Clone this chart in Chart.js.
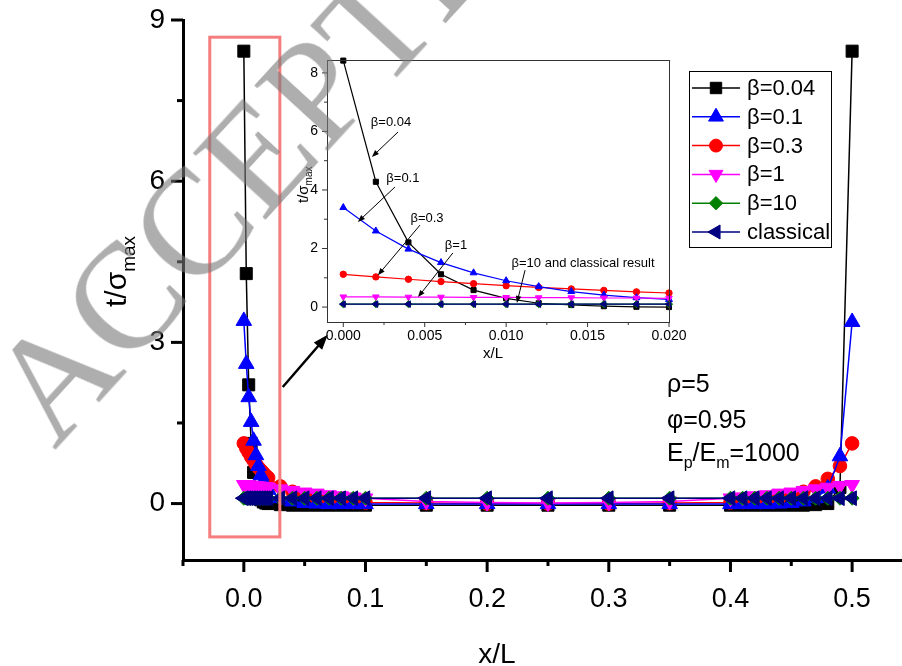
<!DOCTYPE html>
<html>
<head>
<meta charset="utf-8">
<script src="https://cdn.jsdelivr.net/npm/chart.js@4.4.0/dist/chart.umd.min.js"></script>
<style>
body { margin: 0; background: #fff; overflow: hidden; }
#wrap { position: relative; width: 902px; height: 666px; overflow: hidden; }
#main { position: absolute; left: 0; top: 0; }
#inset { position: absolute; left: 280px; top: 50px; }
#wm { position: absolute; left: 46px; top: 443px; width: 0; height: 0; transform: rotate(-47.5deg); transform-origin: 0 0; pointer-events: none; }
#wm span { position: absolute; left: 0; top: -126px; line-height: 1; font: 150px "Liberation Serif", "Times New Roman", serif; white-space: nowrap; color: rgba(120,120,120,0.6); }
</style>
</head>
<body>
<div id="wrap">
  <canvas id="main" width="902" height="666"></canvas>
  <canvas id="inset" width="420" height="320"></canvas>
  <div id="wm"><span>ACCEPTED MANUSCRIPT</span></div>
</div>
<script>
// x/L positions of the computed points (dense near the fibre ends)
var xL = [0, 0.002, 0.004, 0.006, 0.008, 0.010, 0.012, 0.014, 0.016, 0.018, 0.020,
  0.03, 0.04, 0.05, 0.06, 0.07, 0.08, 0.09, 0.10,
  0.15, 0.20, 0.25, 0.30, 0.35,
  0.40, 0.41, 0.42, 0.43, 0.44, 0.45, 0.46, 0.47, 0.48, 0.49, 0.50]

// t/sigma_max
var beta004 = [8.42, 4.28, 2.21, 1.12, 0.58, 0.30, 0.13, 0.07, 0.03, 0.01, 0.00,
  -0.02, -0.03, -0.03, -0.03, -0.03, -0.03, -0.03, -0.03,
  -0.03, -0.03, -0.03, -0.03, -0.03,
  -0.03, -0.03, -0.03, -0.03, -0.03, -0.03, -0.03, -0.02, 0.00, 0.30, 8.42]
var beta01 = [3.40, 2.60, 1.98, 1.52, 1.17, 0.90, 0.70, 0.53, 0.41, 0.32, 0.26,
  0.10, 0.04, 0.01, 0.00, -0.01, -0.01, -0.01, -0.01,
  -0.01, -0.01, -0.01, -0.01, -0.01,
  -0.01, -0.01, -0.01, -0.01, 0.00, 0.01, 0.04, 0.10, 0.28, 0.88, 3.38]
var beta03 = [1.12, 1.03, 0.95, 0.87, 0.80, 0.73, 0.67, 0.62, 0.57, 0.52, 0.48,
  0.32, 0.22, 0.15, 0.10, 0.07, 0.05, 0.03, 0.02,
  0.01, 0.00, 0.00, 0.00, 0.01,
  0.02, 0.03, 0.05, 0.07, 0.10, 0.15, 0.22, 0.32, 0.46, 0.70, 1.12]
var beta1 = [0.35, 0.35, 0.34, 0.34, 0.33, 0.33, 0.32, 0.32, 0.31, 0.31, 0.30,
  0.27, 0.24, 0.21, 0.19, 0.16, 0.14, 0.12, 0.10,
  0.04, 0.02, 0.01, 0.02, 0.04,
  0.10, 0.12, 0.14, 0.16, 0.19, 0.21, 0.24, 0.27, 0.30, 0.33, 0.35]
var beta10 = [0.10, 0.10, 0.10, 0.10, 0.10, 0.10, 0.10, 0.10, 0.10, 0.10, 0.10,
  0.10, 0.10, 0.10, 0.10, 0.10, 0.10, 0.10, 0.10,
  0.10, 0.10, 0.10, 0.10, 0.10,
  0.10, 0.10, 0.10, 0.10, 0.10, 0.10, 0.10, 0.10, 0.10, 0.10, 0.10]
var classical = [0.10, 0.10, 0.10, 0.10, 0.10, 0.10, 0.10, 0.10, 0.10, 0.10, 0.10,
  0.10, 0.10, 0.10, 0.10, 0.10, 0.10, 0.10, 0.10,
  0.10, 0.10, 0.10, 0.10, 0.10,
  0.10, 0.10, 0.10, 0.10, 0.10, 0.10, 0.10, 0.10, 0.10, 0.10, 0.10]

var seriesNames = ['β=0.04', 'β=0.1', 'β=0.3', 'β=1', 'β=10', 'classical']
var seriesValues = [beta004, beta01, beta03, beta1, beta10, classical]

// tick values
var xMajor = [0, 0.1, 0.2, 0.3, 0.4, 0.5]
var xMinor = [-0.05, 0.05, 0.15, 0.25, 0.35, 0.45]
var yMajor = [0, 3, 6, 9]
var yMinor = [1.5, 4.5, 7.5]
var insetXMajor = [0, 0.005, 0.010, 0.015, 0.020]
var insetXMinor = [0.0025, 0.0075, 0.0125, 0.0175]
var insetYMajor = [0, 2, 4, 6, 8]
var insetYMinor = [1, 3, 5, 7]
var insetCount = 11 // points with x/L <= 0.02 go in the inset

// labels with arrows inside the inset, in inset data units
var insetNotes = [
  { text: 'β=0.04', at: [0.00293, 6.32], from: [0.00336, 5.98], to: [0.00176, 5.13] },
  { text: 'β=0.1', at: [0.00366, 4.41], from: [0.00317, 4.10], to: [0.00090, 2.91] },
  { text: 'β=0.3', at: [0.00514, 3.04], from: [0.00471, 2.80], to: [0.00213, 1.09] },
  { text: 'β=1', at: [0.00692, 2.09], from: [0.00673, 1.85], to: [0.00459, 0.34] },
  { text: 'β=10 and classical result', at: [0.01472, 1.50], from: [0.01116, 1.26], to: [0.01066, 0.14] }
]
// zoom box and arrow on the main plot, in main data units
var zoomBox = [-0.028, 0.0296, -0.62, 8.68]
var zoomArrow = [0.032, 2.17, 0.069, 3.14]

// styles
var seriesColors = ['#000000', '#0000ff', '#ff0000', '#ff00ff', '#008000', '#000080']
var pointStyles = ['rect', 'triangle', 'circle', 'triangle', 'rectRot', 'triangle']
var pointRotations = [0, 0, 0, 180, 0, -90]
var mainRadius = [8.5, 9, 6.8, 8.5, 7, 8.5]
var insetRadius = [3.6, 4, 3.2, 3.8, 3.6, 3.8]
var drawOrder = [5, 3, 4, 2, 1, 0]
var family = "'Liberation Sans', Arial, sans-serif"

function buildSets(n, radii, lineWidth) {
  return seriesValues.map(function(vals, i) {
    return {
      label: seriesNames[i],
      data: xL.slice(0, n).map(function(x, j) { return { x: x, y: vals[j] } }),
      borderColor: seriesColors[i],
      backgroundColor: seriesColors[i],
      borderWidth: lineWidth,
      pointStyle: pointStyles[i],
      pointRotation: pointRotations[i],
      pointRadius: radii[i],
      pointBorderWidth: 1,
      pointBackgroundColor: seriesColors[i],
      pointBorderColor: seriesColors[i],
      tension: 0,
      order: drawOrder[i],
      clip: false
    }
  })
}

function drawTicks(ctx, scale, majors, minors, majorLen, minorLen, width, color) {
  ctx.save()
  ctx.strokeStyle = color
  ctx.lineWidth = width
  var horiz = scale.isHorizontal()
  function one(v, len) {
    var p = scale.getPixelForValue(v)
    ctx.beginPath()
    if (horiz) { ctx.moveTo(p, scale.top); ctx.lineTo(p, scale.top + len) }
    else { ctx.moveTo(scale.right, p); ctx.lineTo(scale.right - len, p) }
    ctx.stroke()
  }
  majors.forEach(function(v) { one(v, majorLen) })
  minors.forEach(function(v) { one(v, minorLen) })
  ctx.restore()
}

function arrow(ctx, x1, y1, x2, y2, head, half, width) {
  var a = Math.atan2(y2 - y1, x2 - x1)
  var c = Math.cos(a), s = Math.sin(a)
  ctx.lineWidth = width
  ctx.beginPath()
  ctx.moveTo(x1, y1)
  ctx.lineTo(x2 - c * head * 0.8, y2 - s * head * 0.8)
  ctx.stroke()
  ctx.beginPath()
  ctx.moveTo(x2, y2)
  ctx.lineTo(x2 - c * head + s * half, y2 - s * head - c * half)
  ctx.lineTo(x2 - c * head - s * half, y2 - s * head + c * half)
  ctx.closePath()
  ctx.fill()
}

// parts: [text, font size, baseline shift]
function subText(ctx, x, y, parts) {
  parts.forEach(function(p) {
    ctx.font = p[1] + 'px ' + family
    ctx.fillText(p[0], x, y + p[2])
    x += ctx.measureText(p[0]).width
  })
}

var mainDecor = {
  id: 'mainDecor',
  afterDraw: function(chart) {
    var ctx = chart.ctx, xs = chart.scales.x, ys = chart.scales.y
    drawTicks(ctx, xs, xMajor, xMinor, 12, 6, 3, '#000')
    drawTicks(ctx, ys, yMajor, yMinor, 12, 6, 3, '#000')

    ctx.save()
    ctx.fillStyle = '#000'
    ctx.textBaseline = 'alphabetic'
    ctx.textAlign = 'left'
    // axis titles
    ctx.save()
    ctx.translate(126, 307)
    ctx.rotate(-Math.PI / 2)
    subText(ctx, 0, 0, [['t/σ', 30, 0], ['max', 19, 9]])
    ctx.restore()
    ctx.font = '28px ' + family
    ctx.textAlign = 'center'
    ctx.fillText('x/L', 497, 663)
    ctx.textAlign = 'left'
    // parameters
    subText(ctx, 667, 392, [['ρ=5', 25, 0]])
    subText(ctx, 667, 428, [['φ=0.95', 25, 0]])
    subText(ctx, 667, 461, [['E', 25, 0], ['p', 16, 7], ['/E', 25, 0], ['m', 16, 7], ['=1000', 25, 0]])

    // zoom box and arrow
    ctx.strokeStyle = 'rgb(245,125,125)'
    ctx.lineWidth = 3
    var bx1 = xs.getPixelForValue(zoomBox[0]), bx2 = xs.getPixelForValue(zoomBox[1])
    var by1 = ys.getPixelForValue(zoomBox[3]), by2 = ys.getPixelForValue(zoomBox[2])
    ctx.strokeRect(bx1, by1, bx2 - bx1, by2 - by1)
    ctx.strokeStyle = '#000'
    arrow(ctx, xs.getPixelForValue(zoomArrow[0]), ys.getPixelForValue(zoomArrow[1]),
      xs.getPixelForValue(zoomArrow[2]), ys.getPixelForValue(zoomArrow[3]), 15, 5.5, 2.5)

    // legend
    ctx.fillStyle = '#fff'
    ctx.fillRect(689, 71, 142, 176)
    ctx.strokeStyle = '#000'
    ctx.lineWidth = 1
    ctx.strokeRect(689.5, 71.5, 142, 176)
    ctx.font = '22px ' + family
    ctx.textBaseline = 'middle'
    seriesNames.forEach(function(name, i) {
      var y = 88 + i * 28.8
      ctx.strokeStyle = seriesColors[i]
      ctx.fillStyle = seriesColors[i]
      ctx.lineWidth = 1.5
      ctx.beginPath()
      ctx.moveTo(692, y)
      ctx.lineTo(740, y)
      ctx.stroke()
      ctx.lineWidth = 1
      Chart.helpers.drawPoint(ctx, { pointStyle: pointStyles[i], rotation: pointRotations[i], radius: mainRadius[i] * 0.95, borderWidth: 1 }, 716, y)
      ctx.fillStyle = '#000'
      ctx.fillText(name, 747, y + 1)
    })
    ctx.restore()
  }
}

var insetDecor = {
  id: 'insetDecor',
  afterDraw: function(chart) {
    var ctx = chart.ctx, xs = chart.scales.x, ys = chart.scales.y, ca = chart.chartArea
    drawTicks(ctx, xs, insetXMajor, insetXMinor, 5, 3, 1, '#333')
    drawTicks(ctx, ys, insetYMajor, insetYMinor, 5, 3, 1, '#333')
    ctx.save()
    ctx.strokeStyle = '#333'
    ctx.lineWidth = 1
    ctx.strokeRect(ca.left + 0.5, ca.top + 0.5, ca.right - ca.left, ca.bottom - ca.top)
    ctx.fillStyle = '#000'
    ctx.textAlign = 'left'
    ctx.textBaseline = 'alphabetic'
    ctx.save()
    ctx.translate(ca.left - 19, ca.top + 143)
    ctx.rotate(-Math.PI / 2)
    subText(ctx, 0, 0, [['t/σ', 15, 0], ['max', 10, 4]])
    ctx.restore()
    ctx.font = '15px ' + family
    ctx.textAlign = 'center'
    ctx.fillText('x/L', (ca.left + ca.right) / 2 - 5, ca.bottom + 36)
    ctx.font = '13px ' + family
    ctx.textBaseline = 'middle'
    ctx.strokeStyle = '#000'
    insetNotes.forEach(function(n) {
      ctx.fillText(n.text, xs.getPixelForValue(n.at[0]), ys.getPixelForValue(n.at[1]))
      arrow(ctx, xs.getPixelForValue(n.from[0]), ys.getPixelForValue(n.from[1]),
        xs.getPixelForValue(n.to[0]), ys.getPixelForValue(n.to[1]), 7, 2.8, 1)
    })
    ctx.restore()
  }
}

function axisOptions(min, max, majors, minors, fmt, fontSize, tickLen, pad, size, borderShown) {
  return {
    type: 'linear',
    min: min,
    max: max,
    afterBuildTicks: function(s) {
      s.ticks = majors.concat(minors).sort(function(a, b) { return a - b }).map(function(v) { return { value: v } })
    },
    afterFit: function(s) {
      // fixed axis box, no extra padding for overhanging labels
      if (s.isHorizontal()) s.height = size
      else s.width = size
      s.paddingLeft = 0
      s.paddingRight = 0
      s.paddingTop = 0
      s.paddingBottom = 0
    },
    ticks: {
      autoSkip: false,
      maxRotation: 0,
      padding: pad,
      color: '#000',
      font: { size: fontSize, family: family },
      callback: function(v) { return majors.indexOf(v) >= 0 ? fmt(v) : '' }
    },
    grid: { drawOnChartArea: false, drawTicks: true, tickLength: tickLen, tickColor: 'rgba(0,0,0,0)' },
    border: { display: borderShown, color: '#000', width: 3 }
  }
}

var mainChart = new Chart(document.getElementById('main'), {
  type: 'line',
  data: { datasets: buildSets(xL.length, mainRadius, 1.5) },
  options: {
    responsive: false,
    animation: false,
    devicePixelRatio: 1,
    layout: { autoPadding: false, padding: { top: 20, right: 0, left: 0, bottom: 0 } },
    plugins: { legend: { display: false }, tooltip: { enabled: false } },
    scales: {
      x: axisOptions(-0.05, 0.541, xMajor, xMinor, function(v) { return v.toFixed(1) }, 27, 12, 11, 106, true),
      y: axisOptions(-1.05, 9, yMajor, yMinor, function(v) { return String(v) }, 28, 12, 6, 183, true)
    }
  },
  plugins: [mainDecor]
})

var insetChart = new Chart(document.getElementById('inset'), {
  type: 'line',
  data: { datasets: buildSets(insetCount, insetRadius, 1.2) },
  options: {
    responsive: false,
    animation: false,
    devicePixelRatio: 1,
    layout: { autoPadding: false, padding: { top: 10, right: 31, left: 0, bottom: 0 } },
    plugins: { legend: { display: false }, tooltip: { enabled: false } },
    scales: {
      x: axisOptions(-0.001, 0.020, insetXMajor, insetXMinor, function(v) { return v.toFixed(3) }, 14, 5, 1, 48, false),
      y: axisOptions(-0.51, 8.44, insetYMajor, insetYMinor, function(v) { return String(v) }, 14, 5, 4, 47, false)
    }
  },
  plugins: [insetDecor]
})
</script>
</body>
</html>
